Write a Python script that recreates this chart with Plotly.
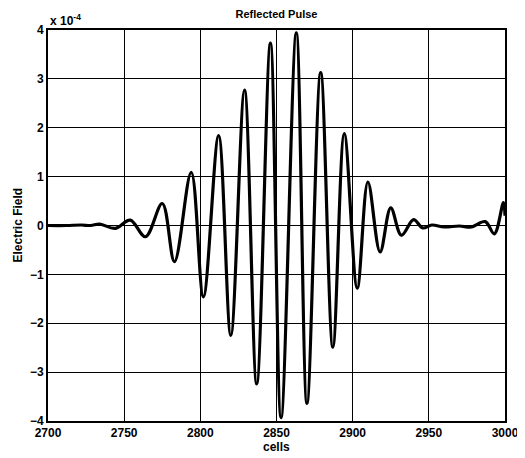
import plotly.graph_objects as go

# cells (x) and electric field (units of 1e-4), extrema:
cells = [2700, 2712, 2722, 2728, 2734, 2744, 2754, 2764,
         2775, 2783, 2794, 2802, 2812, 2820, 2829, 2837,
         2846, 2853, 2863, 2870, 2879, 2887, 2894.5, 2903,
         2910, 2918, 2925, 2932, 2940, 2946, 2952, 2960,
         2970, 2978, 2987, 2993, 2999, 3000]
field = [0.0, 0.0, 0.01, 0.0, 0.03, -0.06, 0.11, -0.23,
         0.45, -0.74, 1.09, -1.46, 1.84, -2.25, 2.77, -3.24,
         3.73, -3.93, 3.94, -3.64, 3.13, -2.49, 1.88, -1.28,
         0.89, -0.54, 0.36, -0.20, 0.12, -0.05, 0.01, -0.03,
         -0.01, -0.03, 0.08, -0.17, 0.47, 0.20]

x_ticks = [2700, 2750, 2800, 2850, 2900, 2950, 3000]
y_ticks = [-4, -3, -2, -1, 0, 1, 2, 3, 4]

font_family = "Liberation Sans, Arial, sans-serif"

fig = go.Figure()
fig.add_trace(go.Scatter(
    x=cells, y=field, mode="lines",
    line=dict(color="black", width=3.2, shape="spline", smoothing=1.0),
    hoverinfo="skip", showlegend=False,
))

axis_common = dict(
    showgrid=True, gridcolor="black", gridwidth=1,
    showline=True, linecolor="black", linewidth=2, mirror=True,
    ticks="inside", ticklen=4, tickcolor="black",
    zeroline=False, automargin=False,
    tickfont=dict(family=font_family, size=12, color="black", weight="bold"),
)

# page has a default 8px body margin, so figure is 8px smaller than the window
fig.update_layout(
    width=517, height=450,
    margin=dict(l=40, r=20, t=22, b=37, autoexpand=False),
    paper_bgcolor="white", plot_bgcolor="white",
    title=dict(text="<b>Reflected Pulse</b>", x=0.5, xanchor="center",
               xref="paper", yref="container",
               y=0.987, yanchor="middle",
               font=dict(family=font_family, size=11, color="black")),
    xaxis=dict(range=[2700, 3000], tickvals=x_ticks, **axis_common),
    yaxis=dict(range=[-4, 4], tickvals=y_ticks, **axis_common),
)

fig.add_annotation(
    text="<b>cells</b>", xref="paper", yref="paper", x=0.5, y=0,
    xanchor="center", yanchor="middle", yshift=-26, showarrow=False,
    font=dict(family=font_family, size=12, color="black"),
)
fig.add_annotation(
    text="<b>Electric Field</b>", xref="paper", yref="paper", x=0, y=0.5,
    xanchor="center", yanchor="middle", xshift=-31, textangle=-90,
    showarrow=False,
    font=dict(family=font_family, size=12, color="black"),
)
fig.add_annotation(
    text="<b>x 10<sup>-4</sup></b>", xref="paper", yref="paper",
    x=0.0, y=1.0, xanchor="left", yanchor="bottom", showarrow=False,
    font=dict(family=font_family, size=12, color="black"),
)

fig.write_html("out.html")
